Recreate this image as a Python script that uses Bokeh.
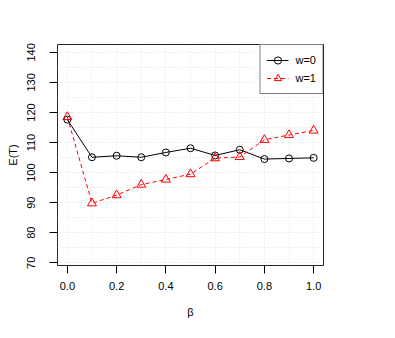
from bokeh.plotting import figure
from bokeh.models import Range1d, FixedTicker, PrintfTickFormatter, Legend, LegendItem
from bokeh.embed import file_html
from bokeh.resources import INLINE

beta = [0.0, 0.1, 0.2, 0.3, 0.4, 0.5, 0.6, 0.7, 0.8, 0.9, 1.0]
w0 = [117.6, 105.1, 105.6, 105.1, 106.7, 108.1, 105.7, 107.6, 104.5, 104.7, 104.9]
w1 = [118.5, 89.8, 92.5, 96.0, 97.7, 99.5, 104.8, 105.2, 110.9, 112.5, 114.0]
labels = ["w=0", "w=1"]
x_ticks = [0.0, 0.2, 0.4, 0.6, 0.8, 1.0]
y_ticks = [70, 80, 90, 100, 110, 120, 130, 140]
x_grid = [0.0, 0.1, 0.2, 0.3, 0.4, 0.5, 0.6, 0.7, 0.8, 0.9, 1.0]
y_grid = [70, 75, 80, 85, 90, 95, 100, 105, 110, 115, 120, 125, 130, 135, 140]

FONT = "Liberation Sans"

p = figure(output_backend="svg", toolbar_location=None,
           frame_width=266, frame_height=221,
           min_border_left=57, min_border_right=56,
           min_border_top=44, min_border_bottom=57,
           x_range=Range1d(-0.04, 1.04), y_range=Range1d(69.1, 142.6))
p.background_fill_color = "white"
p.border_fill_color = "white"
p.outline_line_color = "black"
p.outline_line_width = 1
p.outline_line_alpha = 0.85

p.xgrid.ticker = FixedTicker(ticks=x_grid)
p.ygrid.ticker = FixedTicker(ticks=y_grid)
for g in (p.xgrid, p.ygrid):
    g.grid_line_color = "#e0e0e0"
    g.grid_line_dash = "1 2"
    g.grid_line_width = 1

for ax in (p.xaxis, p.yaxis):
    ax.axis_line_color = None
    ax.major_tick_out = 8
    ax.major_tick_in = 0
    ax.minor_tick_line_color = None
    ax.major_tick_line_color = "black"
    ax.major_label_text_font = FONT
    ax.major_label_text_font_size = "11px"
    ax.major_label_text_color = "black"
    ax.axis_label_text_font = FONT
    ax.axis_label_text_font_size = "11px"
    ax.axis_label_text_font_style = "normal"
    ax.axis_label_text_color = "black"

p.xaxis.ticker = FixedTicker(ticks=x_ticks)
p.xaxis.formatter = PrintfTickFormatter(format="%.1f")
p.xaxis.major_label_standoff = 8
p.xaxis.axis_label = "β"
p.xaxis.axis_label_standoff = 13

p.yaxis.ticker = FixedTicker(ticks=y_ticks)
p.yaxis.major_label_orientation = "vertical"
p.yaxis.major_label_standoff = 14
p.yaxis.axis_label = "E(T)"
p.yaxis.axis_label_standoff = 6

l0 = p.line(beta, w0, line_color="black", line_width=1)
s0 = p.scatter(beta, w0, marker="circle", size=7, fill_color=None,
               line_color="black", line_width=1)
l1 = p.line(beta, w1, line_color="red", line_width=1, line_dash="4 3")
s1 = p.scatter(beta, w1, marker="triangle", size=9, fill_color=None,
               line_color="red", line_width=1)

legend = Legend(items=[LegendItem(label=labels[0], renderers=[l0, s0]),
                       LegendItem(label=labels[1], renderers=[l1, s1])],
                location="top_right", margin=0, padding=6, spacing=0,
                glyph_width=22, glyph_height=18, label_height=18,
                label_standoff=7, border_line_color="black",
                label_text_font=FONT, label_text_font_size="11px",
                label_text_color="black",
                background_fill_color="white", background_fill_alpha=1)
p.add_layout(legend)

open("out.html", "w").write(file_html(p, INLINE))
